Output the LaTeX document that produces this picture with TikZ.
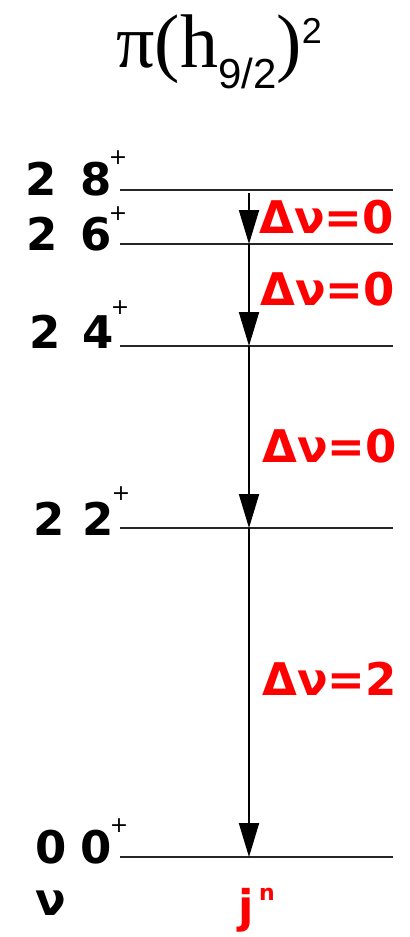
\documentclass[tikz,border=0pt]{standalone}
\usepackage{fontspec}
\setmainfont{DejaVu Sans}
\newfontfamily\titleserif{Liberation Serif}
\newfontfamily\titlesans{Liberation Sans}
\usepackage{tikz}
\usetikzlibrary{arrows.meta,positioning}
\definecolor{shiftred}{HTML}{FF0000}

\begin{document}
\begin{tikzpicture}[x=0.5pt,y=-0.5pt,
    level/.style={line width=0.6pt, black!85},
    decay/.style={line width=1pt, -{Triangle[length=17pt,width=10pt]}},
    qnum/.style={inner sep=0pt, anchor=base west, font=\fontsize{22.5}{27}\selectfont\bfseries},
    parity/.style={inner sep=0pt, font=\fontsize{11}{11}\selectfont},
    deltalabel/.style={qnum, text=shiftred}]
\useasboundingbox (0,0) rectangle (410,937);

% title
\node[inner sep=0pt, anchor=base west] (title) at (116,67)
    {\titleserif\fontsize{38}{38}\selectfont π(h\raisebox{-10.5pt}{\titlesans\fontsize{21}{21}\selectfont 9/2})\raisebox{12pt}{\titlesans\fontsize{18}{18}\selectfont 2}};

% levels
\foreach \spin/\yy in {8/190,6/244,4/346,2/528,0/857} {
    \coordinate (L\spin) at (120,\yy);
    \coordinate (R\spin) at (393,\yy);
    \coordinate (a\spin) at (249,\yy);
    \draw[level] (L\spin) -- (R\spin);
}

% seniority and spin labels
\node[qnum] (nu8) at (25,195) {2};
\node[qnum] (j8) at (80,195) {8};
\node[parity] (p8) at (118,158) {+};
\node[qnum] (nu6) at (26,250) {2};
\node[qnum] (j6) at (80,250) {6};
\node[parity] (p6) at (118,214) {+};
\node[qnum] (nu4) at (29,348) {2};
\node[qnum] (j4) at (82,348) {4};
\node[parity] (p4) at (120,308) {+};
\node[qnum] (nu2) at (33,535) {2};
\node[qnum] (j2) at (82,535) {2};
\node[parity] (p2) at (121,494) {+};
\node[qnum] (nu0) at (35,863) {0};
\node[qnum] (j0) at (80,863) {0};
\node[parity] (p0) at (119,826) {+};

% transitions
\coordinate (start) at (249,193);
\draw[decay] (start) -- (a6);
\draw[decay] (a6) -- (a4);
\draw[decay] (a4) -- (a2);
\draw[decay] (a2) -- (a0);

\node[deltalabel] (d86) at (259,233) {Δν=0};
\node[deltalabel] (d64) at (260,305) {Δν=0};
\node[deltalabel] (d42) at (262,462) {Δν=0};
\node[deltalabel] (d20) at (262,695) {Δν=2};

% axis labels
\node[qnum] (nuaxis) at (35,915) {ν};
\node[deltalabel] (jaxis) at (238,922) {j};
\node[parity, text=shiftred, font=\fontsize{11}{11}\selectfont\bfseries] (naxis) at (267,894) {n};
\end{tikzpicture}
\end{document}
